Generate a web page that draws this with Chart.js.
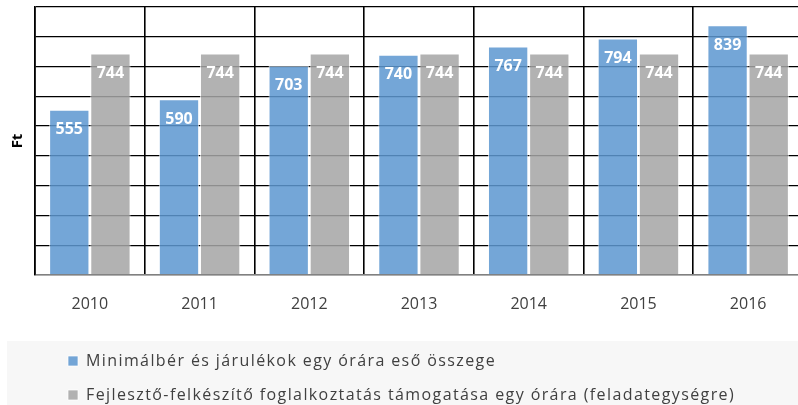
<!DOCTYPE html>
<html>
<head>
<meta charset="utf-8">
<script src="https://cdn.jsdelivr.net/npm/chart.js@4"></script>
<style>
  html, body { margin: 0; padding: 0; background: #fff; overflow: hidden; }
  #wrap { width: 798px; height: 405px; overflow: hidden; }
</style>
</head>
<body>
<div id="wrap"><canvas id="chart" width="803" height="405"></canvas></div>
<script>
var years = ['2010', '2011', '2012', '2013', '2014', '2015', '2016']
var minimalber = [555, 590, 703, 740, 767, 794, 839]
var tamogatas = [744, 744, 744, 744, 744, 744, 744]
var seriesNames = [
  'Minimálbér és járulékok egy órára eső összege',
  'Fejlesztő-felkészítő foglalkoztatás támogatása egy órára (feladategységre)'
]

// move the legend right / down, give it wide letter spacing,
// and paint the grey band behind it
var legendBox = {
  id: 'legendBox',
  afterLayout: function (chart) {
    var legend = chart.legend
    legend.left += 45
    legend.right += 45
    legend.top += 8
    if (!legend._spaced) {
      var draw = legend.draw
      legend.draw = function () {
        var c = this.ctx
        c.save()
        c.letterSpacing = '1.4px'
        draw.apply(this, arguments)
        c.restore()
        c.letterSpacing = '0px'
      }
      legend._spaced = true
    }
  },
  beforeDraw: function (chart) {
    var c = chart.ctx
    c.save()
    c.fillStyle = '#f7f7f7'
    c.fillRect(7, chart.legend.top + 6, chart.width, chart.height)
    c.restore()
  }
}

// white numbers inside the top of each bar
var barLabels = {
  id: 'barLabels',
  afterDatasetsDraw: function (chart) {
    var c = chart.ctx
    c.save()
    c.letterSpacing = '0px'
    c.fillStyle = '#fff'
    c.font = 'bold 16px "Open Sans"'
    c.textAlign = 'center'
    c.textBaseline = 'middle'
    chart.data.datasets.forEach(function (ds, i) {
      chart.getDatasetMeta(i).data.forEach(function (bar, j) {
        c.fillText(ds.data[j], bar.x, bar.y + 20)
      })
    })
    c.restore()
  }
}

var ctx = document.getElementById('chart').getContext('2d')

new Chart(ctx, {
  type: 'bar',
  data: {
    labels: years,
    datasets: [{
      label: seriesNames[0],
      data: minimalber,
      backgroundColor: 'rgba(93,151,209,0.86)',
      borderColor: 'rgba(255,255,255,0.7)',
      borderWidth: 1
    }, {
      label: seriesNames[1],
      data: tamogatas,
      backgroundColor: 'rgba(165,165,165,0.86)',
      borderColor: 'rgba(255,255,255,0.7)',
      borderWidth: 1
    }]
  },
  options: {
    responsive: false,
    animation: false,
    devicePixelRatio: 1,
    layout: { padding: { top: 7, left: 5, right: 0, bottom: 0 } },
    datasets: { bar: { categoryPercentage: 0.75, barPercentage: 0.98 } },
    plugins: {
      tooltip: { enabled: false },
      legend: {
        position: 'bottom',
        align: 'start',
        labels: {
          boxWidth: 10,
          boxHeight: 10,
          padding: 18,
          color: '#404040',
          font: { family: '"Open Sans"', size: 16 }
        }
      }
    },
    scales: {
      x: {
        grid: { offset: true, color: '#000', lineWidth: 1.6, drawTicks: false },
        border: { color: '#808080', width: 1.5 },
        ticks: { color: '#404040', padding: 20, font: { family: '"Open Sans"', size: 16 } },
        afterFit: function (scale) { scale.height = 52 }
      },
      y: {
        min: 0,
        max: 900,
        ticks: { display: false, stepSize: 100 },
        grid: {
          drawTicks: false,
          lineWidth: 1.3,
          color: function (c) { return c.tick && c.tick.value === 0 ? '#808080' : '#000' }
        },
        border: { color: '#000', width: 1.6 },
        title: {
          display: true,
          text: 'Ft',
          color: '#000',
          padding: { top: 4, bottom: 8 },
          font: { family: '"Open Sans"', size: 15, weight: 'bold' }
        }
      }
    }
  },
  plugins: [legendBox, barLabels]
})
</script>
</body>
</html>
